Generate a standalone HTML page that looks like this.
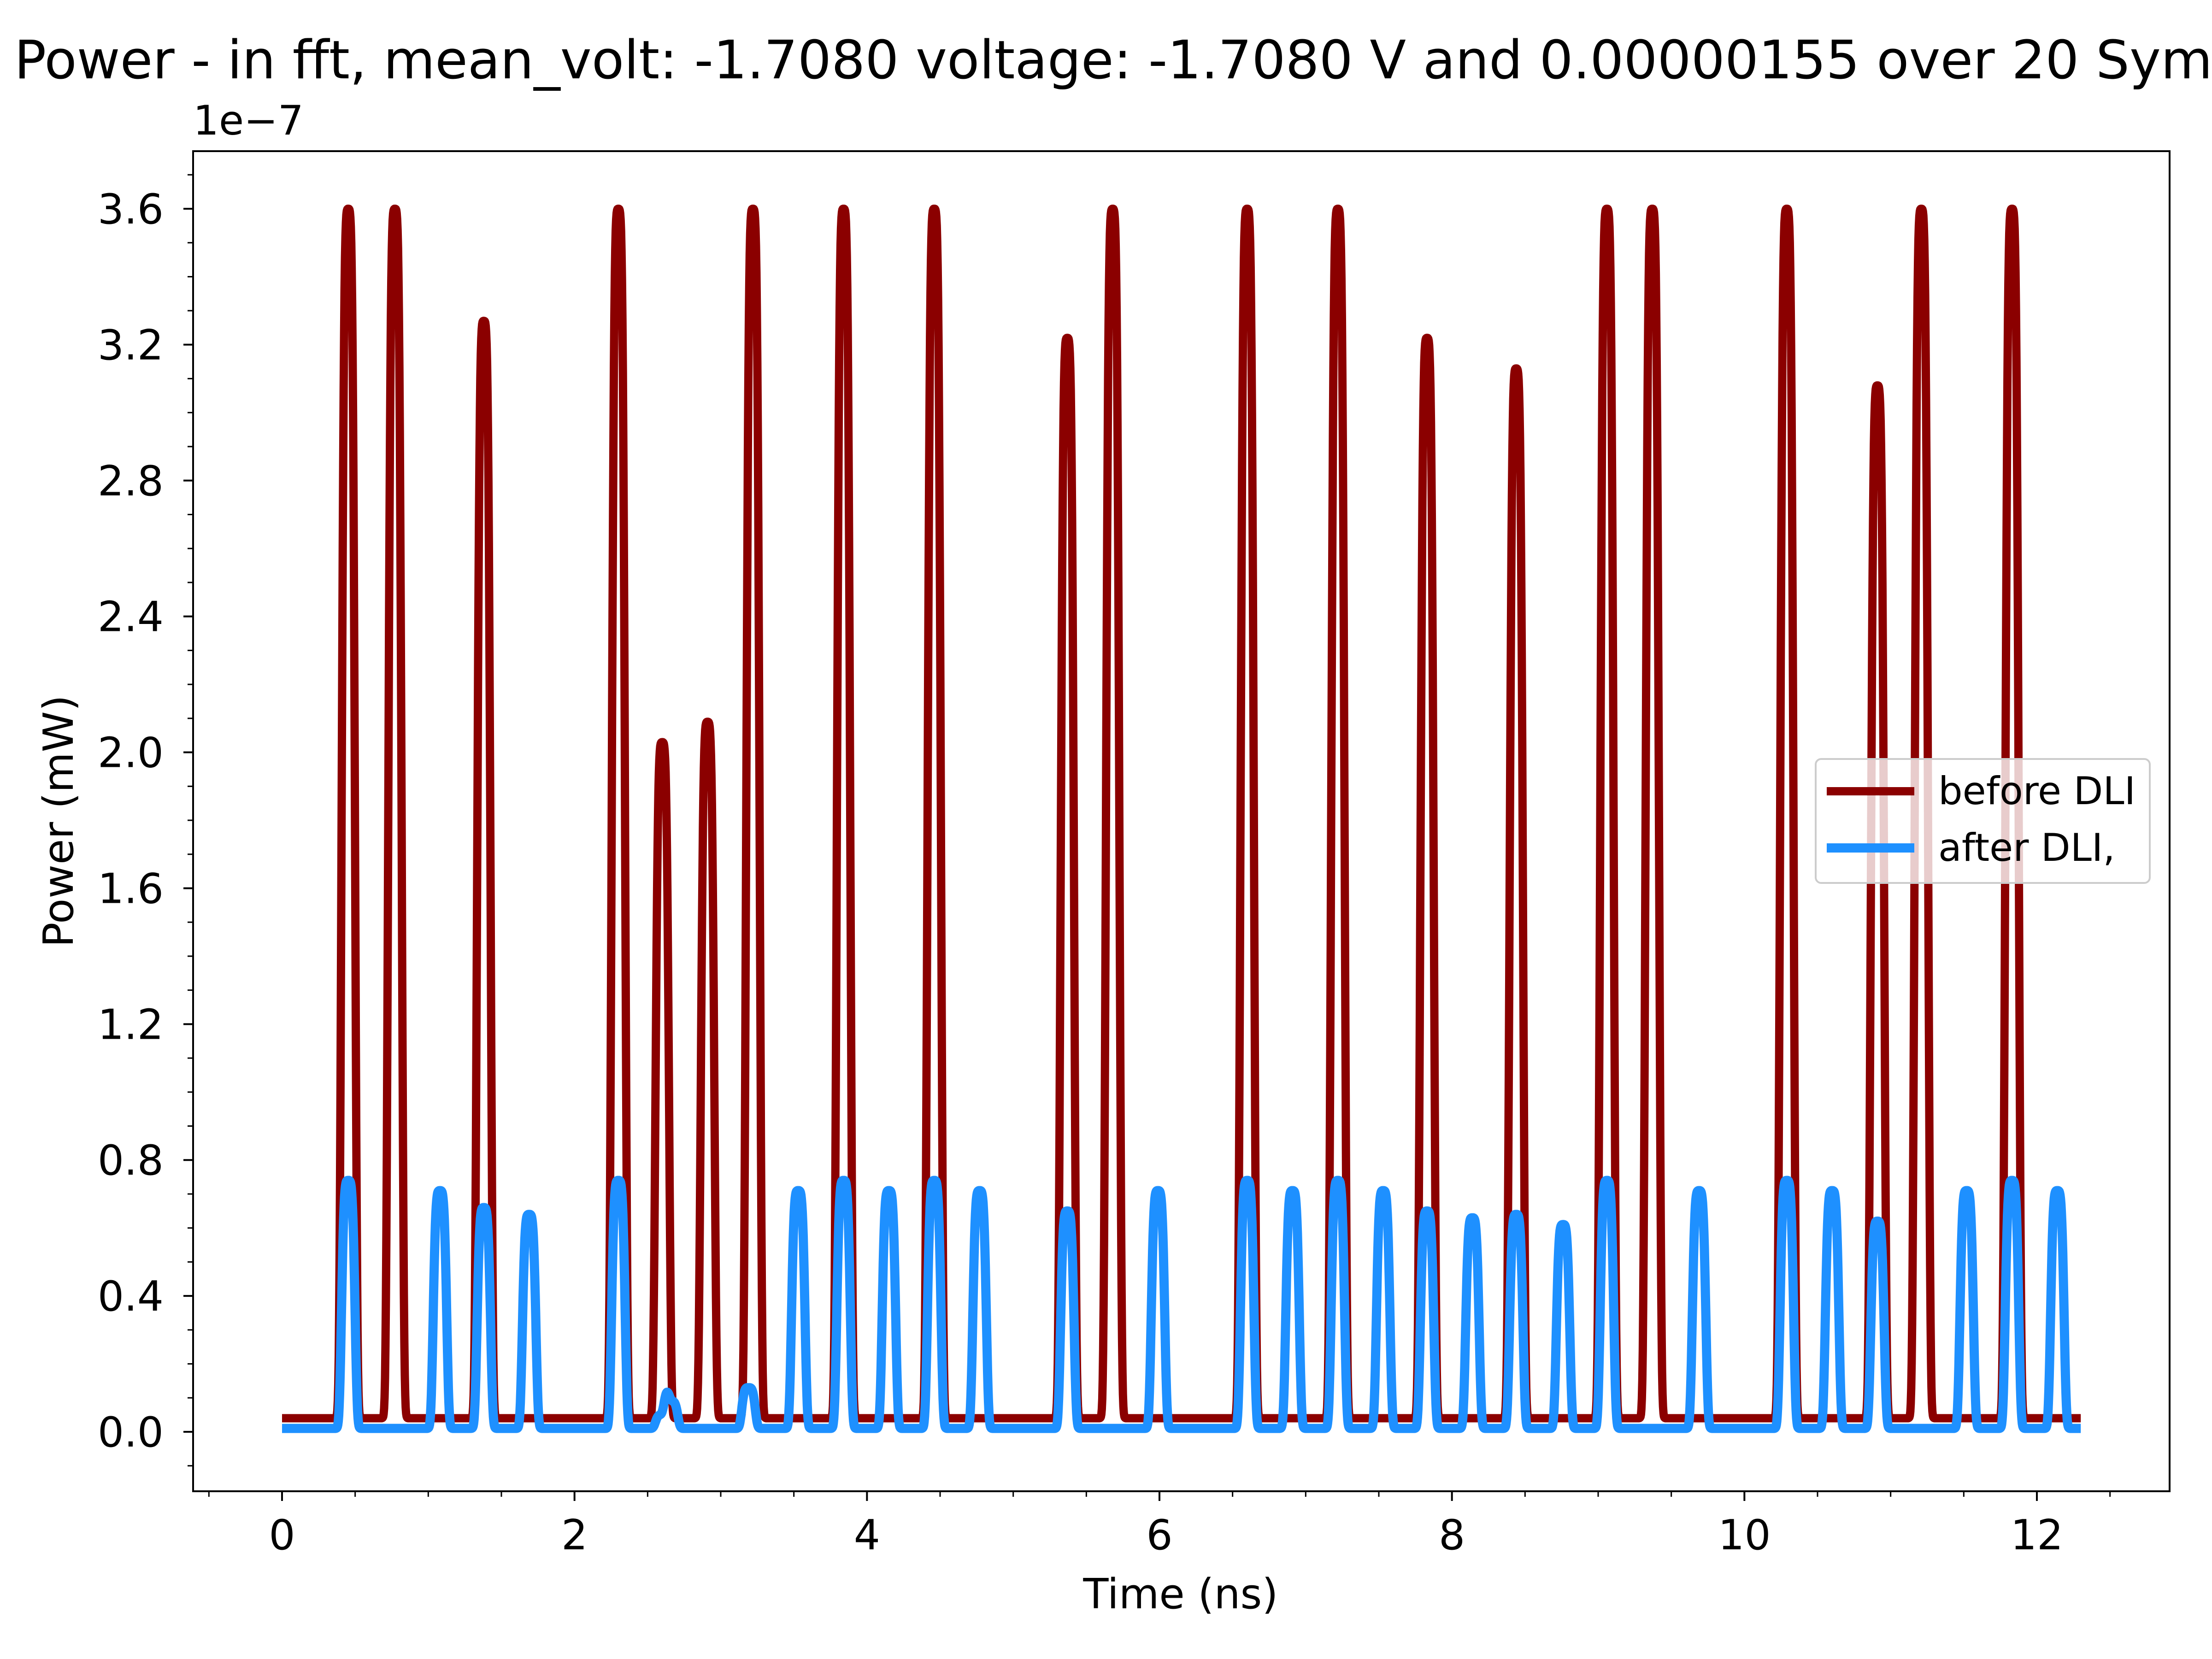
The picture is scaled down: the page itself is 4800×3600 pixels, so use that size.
<!DOCTYPE html>
<html><head><meta charset="utf-8"><style>
html,body{margin:0;padding:0;background:#fff;width:4800px;height:3600px;overflow:hidden}
svg{display:block;font-family:"DejaVu Sans","Liberation Sans",sans-serif}
</style></head><body>
<svg id="chart" width="4800" height="3600" viewBox="0 0 4800 3600" xmlns="http://www.w3.org/2000/svg">
<text x="31" y="170" font-size="115" text-anchor="start">Power - in fft, mean_volt: -1.7080 voltage: -1.7080 V and 0.00000155 over 20 Symbols</text>
<g id="plot"></g>
<rect x="419" y="328" width="4289" height="2908" fill="none" stroke="#000" stroke-width="4"/>
<text x="419" y="292" font-size="88">1e−7</text>
<text x="0" y="0" font-size="90" text-anchor="middle" transform="translate(158,1782) rotate(-90)">Power (mW)</text>
<text x="2562" y="3490" font-size="90" text-anchor="middle">Time (ns)</text>
<g>
<rect x="3940" y="1647" width="725" height="269" rx="12" fill="#fff" fill-opacity="0.8" stroke="#ccc" stroke-width="4"/>
<line x1="3964" y1="1717" x2="4154" y2="1717" stroke="#8b0000" stroke-width="18"/>
<text x="4206" y="1745" font-size="83">before DLI</text>
<line x1="3964" y1="1840" x2="4154" y2="1840" stroke="#1e90ff" stroke-width="20"/>
<text x="4206" y="1868" font-size="83">after DLI,</text>
</g>
</svg>
<script>
const redTimes=[0.453,0.772,1.38,2.30,2.60,2.91,3.22,3.84,4.46,5.37,5.68,6.60,7.22,7.83,8.44,9.06,9.37,10.29,10.91,11.21,11.83];
const redHeights=[3.6,3.6,3.27,3.6,2.03,2.09,3.6,3.6,3.6,3.22,3.6,3.6,3.6,3.22,3.13,3.6,3.6,3.6,3.08,3.6,3.6];
const blueTimes=[0.453,1.08,1.38,1.69,2.30,2.60,2.66,3.19,3.53,3.84,4.15,4.46,4.77,5.37,5.99,6.60,6.91,7.22,7.53,7.83,8.14,8.44,8.76,9.06,9.69,10.29,10.60,10.91,11.52,11.83,12.14];
const blueHeights=[0.74,0.71,0.66,0.64,0.74,0.05,0.09,0.13,0.71,0.74,0.71,0.74,0.71,0.65,0.71,0.74,0.71,0.74,0.71,0.65,0.63,0.64,0.61,0.74,0.71,0.74,0.71,0.62,0.71,0.74,0.71];
const xTicks=[0,2,4,6,8,10,12];
const yTicks=[0,0.4,0.8,1.2,1.6,2.0,2.4,2.8,3.2,3.6];
const redBase=0.04, blueBase=0.01, tEnd=12.3;

const X=t=>612+(t-0)*(4420-612)/12;
const Y=v=>3107-v*(3107-453)/3.6;
const g=document.getElementById('plot');
const NS='http://www.w3.org/2000/svg';
function mk(tag,at){const e=document.createElementNS(NS,tag);for(const k in at)e.setAttribute(k,at[k]);g.appendChild(e);return e;}
function curve(times,hs,base,sig){
  let d='';
  for(let i=0;i<=4000;i++){
    const t=tEnd*i/4000;let v=base;
    for(let j=0;j<times.length;j++){const z=(t-times[j])/sig;v+=(hs[j]-base)*Math.exp(-0.5*z*z*z*z);}
    d+=(i?'L':'M')+X(t).toFixed(1)+','+Y(v).toFixed(1);
  }
  return d;
}
const r=mk('path',{d:curve(redTimes,redHeights,redBase,0.042),fill:'none',stroke:'#8b0000','stroke-width':18,'stroke-linejoin':'round'});


const b=mk('path',{d:curve(blueTimes,blueHeights,blueBase,0.042),fill:'none',stroke:'#1e90ff','stroke-width':20,'stroke-linejoin':'round'});


xTicks.forEach(t=>{
  const l=mk('line',{x1:X(t),x2:X(t),y1:3236,y2:3257,stroke:'#000','stroke-width':4});
  
  
  const tx=mk('text',{x:X(t),y:3362,'font-size':90,'text-anchor':'middle'});tx.textContent=t;
  
  
});
for(let t=-0.5;t<=12.8;t+=0.5){if(Math.abs(t%2)<1e-6)continue;
  const l=mk('line',{x1:X(t),x2:X(t),y1:3236,y2:3248,stroke:'#000','stroke-width':3});
  
  }
yTicks.forEach(v=>{
  const l=mk('line',{x1:398,x2:419,y1:Y(v),y2:Y(v),stroke:'#000','stroke-width':4});
  
  
  const tx=mk('text',{x:355,y:Y(v)+32,'font-size':90,'text-anchor':'end'});tx.textContent=v.toFixed(1);
  
  
});
for(let v=-0.1;v<=3.75;v+=0.1){const k=Math.round(v*10);if(k%4===0)continue;
  const l=mk('line',{x1:407,x2:419,y1:Y(k/10),y2:Y(k/10),stroke:'#000','stroke-width':3});
  
  }
</script>
</body></html>
